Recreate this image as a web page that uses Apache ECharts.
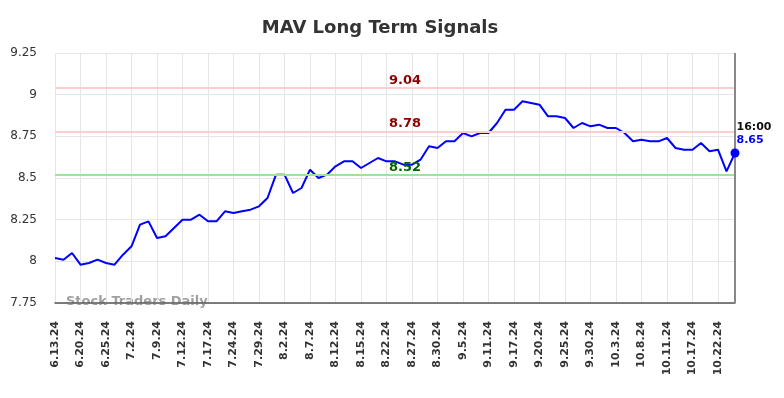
<!DOCTYPE html>
<html>
<head>
<meta charset="utf-8">
<script src="https://cdn.jsdelivr.net/npm/echarts@6/dist/echarts.min.js"></script>
<style>
  html, body { margin: 0; padding: 0; background: #fff; }
  #chart { width: 784px; height: 398px; }
</style>
</head>
<body>
<div id="chart"></div>
<script>
// trading dates (every third one is shown on the axis)
const dates = [
  '6.13.24', '6.14.24', '6.18.24', '6.20.24', '6.21.24', '6.24.24', '6.25.24', '6.27.24', '7.1.24',
  '7.2.24', '7.3.24', '7.5.24', '7.9.24', '7.10.24', '7.11.24', '7.12.24', '7.15.24', '7.16.24',
  '7.17.24', '7.19.24', '7.22.24', '7.24.24', '7.25.24', '7.26.24', '7.29.24', '7.31.24', '8.1.24',
  '8.2.24', '8.5.24', '8.6.24', '8.7.24', '8.8.24', '8.9.24', '8.12.24', '8.13.24', '8.14.24',
  '8.15.24', '8.19.24', '8.20.24', '8.22.24', '8.23.24', '8.26.24', '8.27.24', '8.28.24', '8.29.24',
  '8.30.24', '9.3.24', '9.4.24', '9.5.24', '9.6.24', '9.9.24', '9.11.24', '9.12.24', '9.16.24',
  '9.17.24', '9.18.24', '9.19.24', '9.20.24', '9.23.24', '9.24.24', '9.25.24', '9.26.24', '9.27.24',
  '9.30.24', '10.1.24', '10.2.24', '10.3.24', '10.4.24', '10.7.24', '10.8.24', '10.9.24', '10.10.24',
  '10.11.24', '10.14.24', '10.16.24', '10.17.24', '10.18.24', '10.21.24', '10.22.24', '10.23.24', '10.24.24'
];

const mav = [
  8.02, 8.01, 8.05, 7.98, 7.99, 8.01, 7.99, 7.98, 8.04, 8.09,
  8.22, 8.24, 8.14, 8.15, 8.20, 8.25, 8.25, 8.28, 8.24, 8.24,
  8.30, 8.29, 8.30, 8.31, 8.33, 8.38, 8.52, 8.52, 8.41, 8.44,
  8.55, 8.50, 8.52, 8.57, 8.60, 8.60, 8.56, 8.59, 8.62, 8.60,
  8.60, 8.58, 8.58, 8.61, 8.69, 8.68, 8.72, 8.72, 8.77, 8.75,
  8.77, 8.77, 8.83, 8.91, 8.91, 8.96, 8.95, 8.94, 8.87, 8.87,
  8.86, 8.80, 8.83, 8.81, 8.82, 8.80, 8.80, 8.77, 8.72, 8.73,
  8.72, 8.72, 8.74, 8.68, 8.67, 8.67, 8.71, 8.66, 8.67, 8.54,
  8.65
];

const yTicks = [7.75, 8, 8.25, 8.5, 8.75, 9, 9.25];

const signalLevels = [9.04, 8.78, 8.52];
const signalLineColors = ['#ffcccc', '#ffcccc', '#99e699'];
const signalTextColors = ['#8b0000', '#8b0000', '#006400'];

const lastTime = '16:00';
const lastIdx = mav.length - 1;

const chart = echarts.init(document.getElementById('chart'));

chart.setOption({
  animation: false,
  backgroundColor: '#fff',
  title: {
    text: 'MAV Long Term Signals',
    left: 375,
    top: 14,
    textAlign: 'center',
    textStyle: { fontFamily: 'DejaVu Sans', fontSize: 18, fontWeight: 'bold', color: '#333' }
  },
  grid: { left: 55, right: 49, top: 53, bottom: 95 },
  xAxis: {
    type: 'category',
    data: dates,
    boundaryGap: false,
    axisLine: { lineStyle: { color: '#555', width: 1.5 } },
    axisTick: { show: false },
    axisLabel: {
      interval: 2,
      rotate: 90,
      margin: 18,
      fontFamily: 'DejaVu Sans',
      fontSize: 11,
      fontWeight: 'bold',
      color: '#333'
    },
    splitLine: { show: true, interval: 2, lineStyle: { color: '#e6e6e6' } }
  },
  yAxis: {
    type: 'value',
    min: yTicks[0],
    max: yTicks[yTicks.length - 1],
    interval: 0.25,
    axisLine: { show: false },
    axisTick: { show: false },
    axisLabel: {
      margin: 18,
      fontFamily: 'DejaVu Sans',
      fontSize: 12,
      color: '#333',
      formatter: v => (yTicks.includes(v) ? String(v) : '')
    },
    splitLine: { lineStyle: { color: '#e6e6e6' } }
  },
  graphic: [{
    type: 'text',
    left: 66,
    top: 295,
    style: {
      text: 'Stock Traders Daily',
      fontFamily: 'DejaVu Sans',
      fontSize: 13,
      fontWeight: 'bold',
      fill: '#a0a0a0'
    }
  }],
  series: [
    {
      type: 'line',
      data: mav,
      showSymbol: false,
      lineStyle: { color: '#0000ff', width: 2 },
      z: 3,
      markLine: {
        silent: true,
        symbol: 'none',
        data: signalLevels.map((v, i) => ({
          yAxis: v,
          lineStyle: { color: signalLineColors[i], width: 2, type: 'solid' },
          label: {
            show: true,
            position: 'middle',
            formatter: String(v),
            fontFamily: 'DejaVu Sans',
            fontSize: 13,
            fontWeight: 'bold',
            color: signalTextColors[i],
            offset: [10, 4]
          }
        })).concat([{
          xAxis: lastIdx,
          lineStyle: { color: '#888', width: 2, type: 'solid' },
          label: { show: false }
        }])
      }
    },
    {
      type: 'scatter',
      data: [[lastIdx, mav[lastIdx]]],
      symbol: 'circle',
      symbolSize: 9,
      itemStyle: { color: '#0000ff', opacity: 1 },
      z: 10,
      label: {
        show: true,
        position: [6, -28],
        formatter: '{t|' + lastTime + '}\n{v|' + mav[lastIdx].toFixed(2) + '}',
        rich: {
          t: { fontFamily: 'DejaVu Sans', fontSize: 11, fontWeight: 'bold', color: '#111', lineHeight: 13 },
          v: { fontFamily: 'DejaVu Sans', fontSize: 11, fontWeight: 'bold', color: '#0000ff', lineHeight: 13 }
        }
      }
    }
  ]
});
</script>
</body>
</html>
